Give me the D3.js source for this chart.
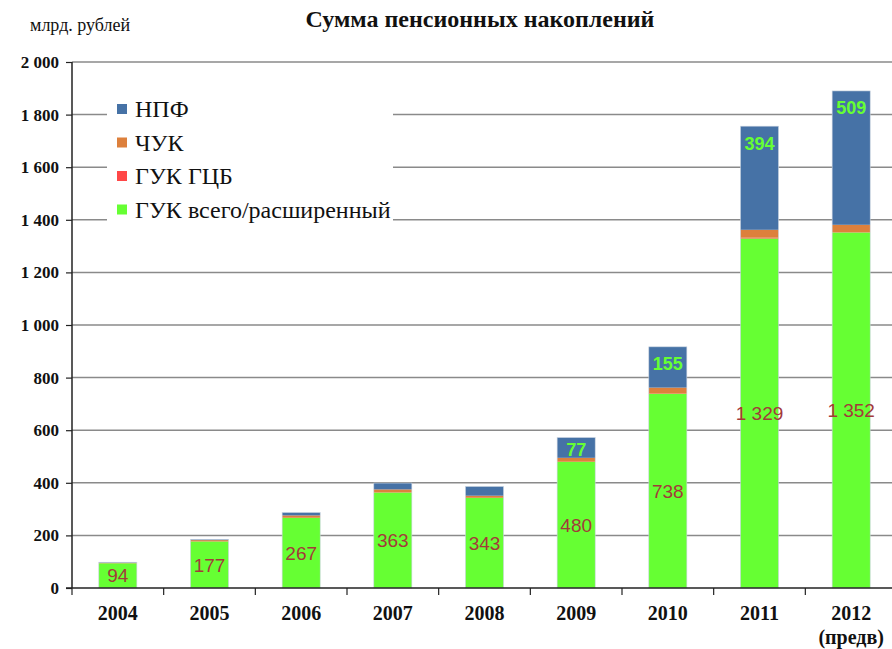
<!DOCTYPE html>
<html>
<head>
<meta charset="utf-8">
<title>Сумма пенсионных накоплений</title>
<script src="https://d3js.org/d3.v7.min.js"></script>
<style>
	body { margin: 0; background: #fff; }
	svg { display: block; }
	.serif { font-family: "Liberation Serif", "Times New Roman", serif; }
	.sans { font-family: "Liberation Sans", Arial, sans-serif; }
</style>
</head>
<body>
<div id="chart"></div>
<script>
// data, billion rubles
var years = ["2004", "2005", "2006", "2007", "2008", "2009", "2010", "2011", "2012"];
var gukTotal = [94, 177, 267, 363, 343, 480, 738, 1329, 1352];
var gukGcb   = [0, 0, 0, 0, 0, 0, 1, 3, 1];
var chuk     = [2, 5, 9, 12, 8, 15, 23, 30, 28];
var npf      = [2, 3, 11, 24, 35, 77, 155, 394, 509];
var seriesNames = ["НПФ", "ЧУК", "ГУК ГЦБ", "ГУК всего/расширенный"];
var yTicks = [0, 200, 400, 600, 800, 1000, 1200, 1400, 1600, 1800, 2000];
var npfShown = [false, false, false, false, false, true, true, true, true];

var colors = {
	"ГУК всего/расширенный": "#66ff33",
	"ГУК ГЦБ": "#ff4747",
	"ЧУК": "#dd803c",
	"НПФ": "#4672a6"
};

var W = 892, H = 649;
var plotL = 72, plotR = 897, plotT = 62, plotB = 588;

var svg = d3.select("#chart").append("svg")
	.attr("width", W)
	.attr("height", H);

var x = d3.scaleBand()
	.domain(years)
	.range([plotL, plotR])
	.paddingInner(0.585)
	.paddingOuter(0.2925);

var y = d3.scaleLinear()
	.domain([0, 2000])
	.range([plotB, plotT]);

var fmt = function(v) { return d3.format(",")(v).replace(/,/g, " "); };

// gridlines
svg.append("g")
	.selectAll("line")
	.data(yTicks.slice(1))
	.enter().append("line")
	.attr("x1", plotL).attr("x2", W)
	.attr("y1", function(d) { return y(d); })
	.attr("y2", function(d) { return y(d); })
	.attr("stroke", "#8a8a8a")
	.attr("stroke-width", 1.5);

// stacked data
var rows = years.map(function(yr, i) {
	return {
		year: yr,
		"ГУК всего/расширенный": gukTotal[i],
		"ГУК ГЦБ": gukGcb[i],
		"ЧУК": chuk[i],
		"НПФ": npf[i]
	};
});
var keys = ["ГУК всего/расширенный", "ГУК ГЦБ", "ЧУК", "НПФ"];
var stacked = d3.stack().keys(keys)(rows);

var layer = svg.append("g")
	.selectAll("g")
	.data(stacked)
	.enter().append("g")
	.attr("fill", function(d) { return colors[d.key]; });

layer.selectAll("rect")
	.data(function(d) { return d; })
	.enter().append("rect")
	.attr("x", function(d) { return x(d.data.year); })
	.attr("width", x.bandwidth())
	.attr("y", function(d) { return y(d[1]); })
	.attr("height", function(d) { return y(d[0]) - y(d[1]); });

// thin outline of whole bar
var topSeries = stacked[stacked.length - 1];
svg.append("g")
	.selectAll("rect")
	.data(topSeries)
	.enter().append("rect")
	.attr("x", function(d) { return x(d.data.year); })
	.attr("width", x.bandwidth())
	.attr("y", function(d) { return y(d[1]); })
	.attr("height", function(d) { return plotB - y(d[1]); })
	.attr("fill", "none")
	.attr("stroke", "#c9d3df")
	.attr("stroke-width", 0.6);

// labels on green segments (centered)
svg.append("g")
	.selectAll("text")
	.data(stacked[0])
	.enter().append("text")
	.attr("class", "sans")
	.attr("x", function(d) { return x(d.data.year) + x.bandwidth() / 2; })
	.attr("y", function(d) { return (y(d[0]) + y(d[1])) / 2; })
	.attr("dy", "0.36em")
	.attr("text-anchor", "middle")
	.attr("font-size", 19)
	.attr("fill", "#a33a3a")
	.text(function(d) { return fmt(d[1] - d[0]); });

// labels on blue segments (inside end)
svg.append("g")
	.selectAll("text")
	.data(topSeries.filter(function(d, i) { return npfShown[i]; }))
	.enter().append("text")
	.attr("class", "sans")
	.attr("x", function(d) { return x(d.data.year) + x.bandwidth() / 2; })
	.attr("y", function(d) {
		var t = y(d[1]), b = y(d[0]);
		return Math.min(t + 17, (t + b) / 2 + 2);
	})
	.attr("dy", "0.36em")
	.attr("text-anchor", "middle")
	.attr("font-size", 18)
	.attr("font-weight", "bold")
	.attr("fill", "#66ff33")
	.text(function(d) { return fmt(d[1] - d[0]); });

// y axis
var yAxis = d3.axisLeft(y)
	.tickValues(yTicks)
	.tickSize(6)
	.tickFormat(fmt);
var gy = svg.append("g")
	.attr("transform", "translate(" + plotL + ",0)")
	.call(yAxis);
gy.select(".domain").attr("stroke", "#222").attr("stroke-width", 1.5)
	.attr("d", "M0," + plotB + "V" + plotT);
gy.selectAll(".tick line").attr("stroke", "#222").attr("stroke-width", 1.2);
gy.selectAll(".tick text")
	.attr("class", "serif")
	.attr("x", -13)
	.attr("font-size", 17)
	.attr("font-weight", "bold")
	.attr("fill", "#111");

// x axis
var gx = svg.append("g")
	.attr("transform", "translate(0," + plotB + ")");
gx.append("line")
	.attr("x1", plotL - 6).attr("x2", W)
	.attr("stroke", "#222").attr("stroke-width", 1.5);
gx.selectAll(".xt")
	.data(d3.range(years.length + 1))
	.enter().append("line")
	.attr("class", "xt")
	.attr("x1", function(i) { return plotL + i * x.step(); })
	.attr("x2", function(i) { return plotL + i * x.step(); })
	.attr("y1", 0).attr("y2", 7)
	.attr("stroke", "#222").attr("stroke-width", 1.2);
gx.selectAll(".xl")
	.data(years)
	.enter().append("text")
	.attr("class", "serif xl")
	.attr("x", function(d) { return x(d) + x.bandwidth() / 2; })
	.attr("y", 32)
	.attr("text-anchor", "middle")
	.attr("font-size", 20)
	.attr("font-weight", "bold")
	.attr("fill", "#111")
	.text(function(d) { return d; });
gx.append("text")
	.attr("class", "serif")
	.attr("x", x("2012") + x.bandwidth() / 2)
	.attr("y", 56)
	.attr("text-anchor", "middle")
	.attr("font-size", 20)
	.attr("font-weight", "bold")
	.attr("fill", "#111")
	.text("(предв)");

// legend
var legend = svg.append("g");
legend.append("rect")
	.attr("x", 107).attr("y", 92)
	.attr("width", 286).attr("height", 136)
	.attr("fill", "#fff");
var li = legend.selectAll(".li")
	.data(seriesNames)
	.enter().append("g")
	.attr("class", "li")
	.attr("transform", function(d, i) { return "translate(117," + (109 + i * 33.5) + ")"; });
li.append("rect")
	.attr("x", 0).attr("y", -5)
	.attr("width", 10).attr("height", 10)
	.attr("fill", function(d) { return colors[d]; });
li.append("text")
	.attr("class", "serif")
	.attr("x", 18)
	.attr("dy", "0.35em")
	.attr("font-size", 24)
	.attr("fill", "#111")
	.text(function(d) { return d; });

// titles
svg.append("text")
	.attr("class", "serif")
	.attr("x", 480).attr("y", 27)
	.attr("text-anchor", "middle")
	.attr("font-size", 24)
	.attr("font-weight", "bold")
	.attr("fill", "#111")
	.text("Сумма пенсионных накоплений");
svg.append("text")
	.attr("class", "serif")
	.attr("x", 30).attr("y", 31)
	.attr("font-size", 18)
	.attr("fill", "#111")
	.text("млрд. рублей");
</script>
</body>
</html>
